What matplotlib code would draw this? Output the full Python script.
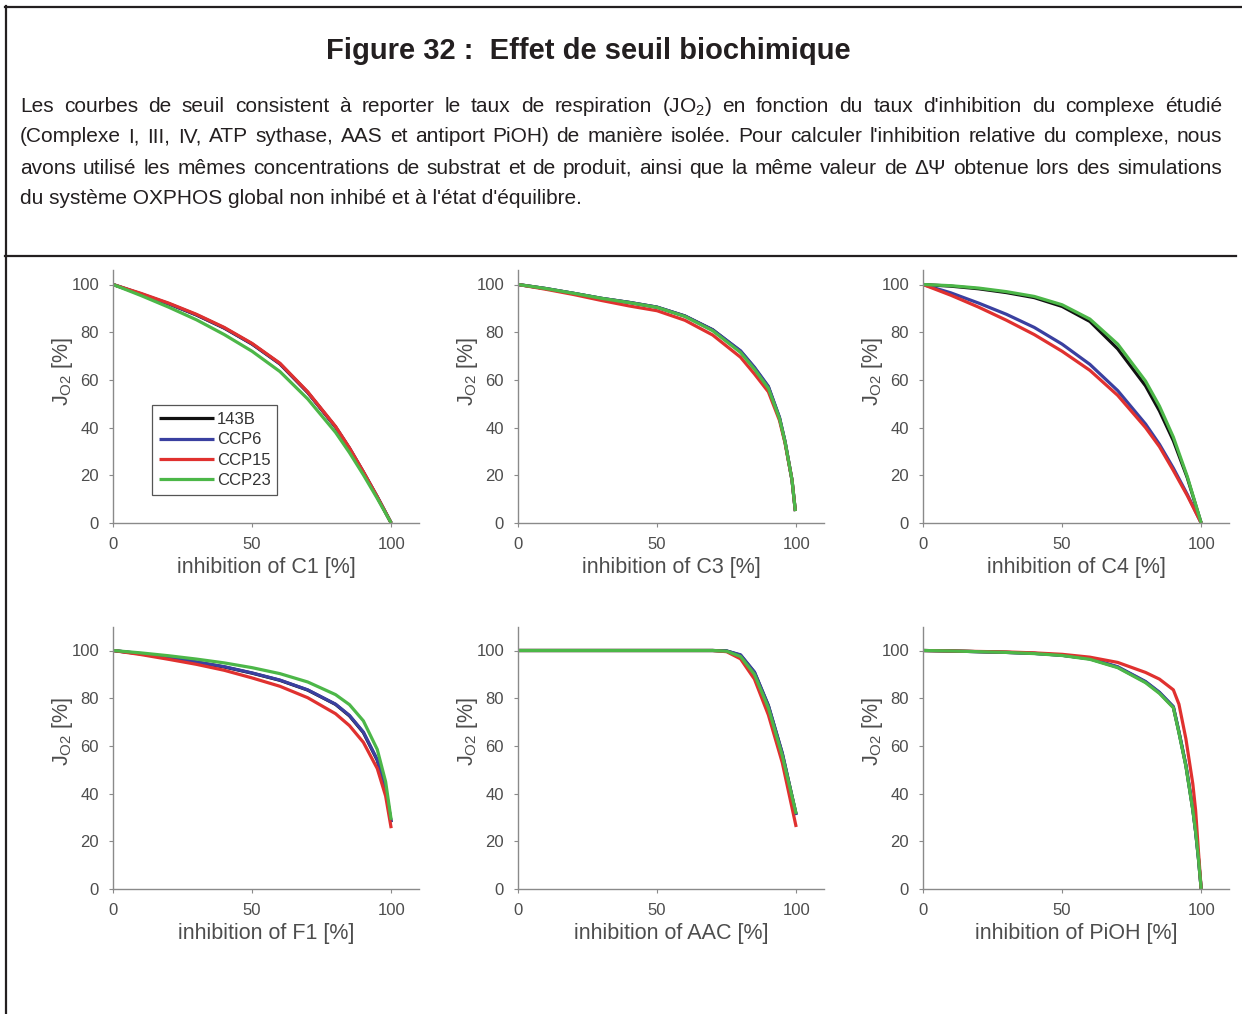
import matplotlib
matplotlib.use("Agg")
import matplotlib.pyplot as plt
from matplotlib.lines import Line2D

plt.rcParams['font.family'] = ['Liberation Sans', 'DejaVu Sans']

# ---- data ----
series = ["143B", "CCP6", "CCP15", "CCP23"]
colors = ["#111111", "#3a40a0", "#e0312f", "#4cb748"]

x_c1 = [0, 10, 20, 30, 40, 50, 60, 70, 80, 85, 90, 95, 100]
c1_143b = [100, 96.0, 91.9, 87.2, 81.7, 75.0, 66.7, 54.7, 40.2, 31.3, 21.3, 10.9, 0]
c1_ccp6 = [100, 96.1, 92.0, 87.3, 81.8, 75.1, 66.8, 54.8, 40.3, 31.4, 21.4, 11.0, 0]
c1_ccp15 = [100, 96.3, 92.2, 87.5, 82.0, 75.3, 67.0, 55.0, 40.5, 31.5, 21.5, 11.0, 0]
c1_ccp23 = [100, 95.4, 90.5, 85.2, 79.0, 72.0, 63.5, 52.0, 38.0, 29.5, 20.2, 10.3, 0]

x_c3 = [0, 10, 20, 30, 40, 50, 60, 70, 80, 85, 90, 94, 96, 98.5, 99.7]
c3_143b = [100, 98.3, 96.3, 94.2, 92.5, 90.5, 86.8, 81.0, 72.0, 65.0, 57.0, 44.0, 34.0, 18.0, 5]
c3_ccp6 = [100, 98.3, 96.3, 94.2, 92.5, 90.5, 86.8, 81.0, 72.2, 65.3, 57.3, 44.3, 34.2, 18.0, 5]
c3_ccp15 = [100, 98.0, 95.8, 93.3, 91.0, 89.0, 85.0, 78.8, 69.5, 62.5, 55.0, 43.0, 33.5, 18.0, 5]
c3_ccp23 = [100, 98.3, 96.3, 94.2, 92.4, 90.4, 86.6, 80.6, 71.5, 64.5, 56.5, 43.8, 34.0, 18.0, 5]

x_c4 = [0, 10, 20, 30, 40, 50, 60, 70, 80, 85, 90, 95, 100]
c4_143b = [100, 99.3, 98.2, 96.6, 94.5, 90.8, 84.5, 73.0, 57.5, 47.0, 34.5, 19.0, 0]
c4_ccp6 = [100, 96.5, 92.2, 87.5, 82.0, 75.0, 66.5, 55.5, 41.5, 33.0, 23.0, 12.0, 0]
c4_ccp15 = [100, 95.5, 90.5, 85.0, 79.0, 72.0, 64.0, 53.5, 40.0, 32.0, 22.0, 11.5, 0]
c4_ccp23 = [100, 99.5, 98.5, 97.0, 95.0, 91.5, 85.5, 75.0, 59.5, 49.0, 36.0, 19.5, 0]

x_f1 = [0, 10, 20, 30, 40, 50, 60, 70, 80, 85, 90, 95, 98, 100]
f1_143b = [100, 98.6, 96.9, 95.1, 93.1, 90.5, 87.5, 83.4, 77.4, 72.6, 65.6, 54.0, 42.0, 28.0]
f1_ccp6 = [100, 98.7, 97.0, 95.2, 93.2, 90.6, 87.6, 83.5, 77.5, 72.8, 65.8, 54.2, 42.0, 28.0]
f1_ccp15 = [100, 98.3, 96.3, 94.2, 91.7, 88.5, 85.0, 80.2, 73.5, 68.5, 61.5, 50.5, 39.0, 25.5]
f1_ccp23 = [100, 99.0, 97.8, 96.4, 94.8, 92.8, 90.3, 86.8, 81.5, 77.3, 70.5, 58.5, 45.0, 29.0]

x_aac = [0, 10, 20, 30, 40, 50, 60, 70, 75, 80, 85, 90, 95, 100]
aac_143b = [100, 100, 100, 100, 100, 100, 100, 100, 99.8, 98.0, 90.8, 76.8, 56.8, 31.2]
aac_ccp6 = [100, 100, 100, 100, 100, 100, 100, 100, 99.8, 98.2, 91.0, 77.0, 57.0, 31.0]
aac_ccp15 = [100, 100, 100, 100, 100, 100, 100, 100, 99.5, 96.5, 88.0, 73.0, 53.0, 26.0]
aac_ccp23 = [100, 100, 100, 100, 100, 100, 100, 100, 99.7, 97.5, 90.0, 76.0, 56.0, 31.5]

x_pioh = [0, 10, 20, 30, 40, 50, 60, 70, 80, 85, 90, 92, 94.5, 97, 98, 99, 100]
pioh_143b = [100, 99.8, 99.5, 99.2, 98.8, 98.0, 96.5, 93.0, 86.8, 82.3, 76.2, 65.8, 51.8, 33.2, 24.0, 13.0, 0]
pioh_ccp6 = [100, 99.8, 99.5, 99.2, 98.8, 98.0, 96.6, 93.2, 87.0, 82.5, 76.5, 66.0, 52.0, 33.5, 24.2, 13.0, 0]
pioh_ccp15 = [100, 99.8, 99.6, 99.4, 99.0, 98.4, 97.2, 95.0, 90.8, 88.0, 83.5, 77.5, 63.0, 44.0, 33.0, 16.0, 0]
pioh_ccp23 = [100, 99.8, 99.5, 99.2, 98.7, 97.9, 96.3, 92.8, 86.5, 82.0, 76.0, 65.5, 51.5, 33.0, 24.0, 13.0, 0]

panels = [
    ("inhibition of C1 [%]", x_c1, [c1_143b, c1_ccp6, c1_ccp15, c1_ccp23]),
    ("inhibition of C3 [%]", x_c3, [c3_143b, c3_ccp6, c3_ccp15, c3_ccp23]),
    ("inhibition of C4 [%]", x_c4, [c4_143b, c4_ccp6, c4_ccp15, c4_ccp23]),
    ("inhibition of F1 [%]", x_f1, [f1_143b, f1_ccp6, f1_ccp15, f1_ccp23]),
    ("inhibition of AAC [%]", x_aac, [aac_143b, aac_ccp6, aac_ccp15, aac_ccp23]),
    ("inhibition of PiOH [%]", x_pioh, [pioh_143b, pioh_ccp6, pioh_ccp15, pioh_ccp23]),
]

title = "Figure 32 :  Effet de seuil biochimique"
para = [
    "Les courbes de seuil consistent à reporter le taux de respiration (JO$_\\mathregular{2}$) en fonction du taux d'inhibition du complexe étudié",
    "(Complexe I, III, IV, ATP sythase, AAS et antiport PiOH) de manière isolée. Pour calculer l'inhibition relative du complexe, nous",
    "avons utilisé les mêmes concentrations de substrat et de produit, ainsi que la même valeur de ΔΨ obtenue lors des simulations",
    "du système OXPHOS global non inhibé et à l'état d'équilibre.",
]

W, H = 1242, 1014
fig = plt.figure(figsize=(W / 100, H / 100), dpi=100)

# frame lines
lc = "#231f20"
fig.add_artist(Line2D([5 / W, 1], [1 - 6.5 / H, 1 - 6.5 / H], color=lc, lw=1.6, transform=fig.transFigure))
fig.add_artist(Line2D([5.5 / W, 5.5 / W], [0, 1 - 6 / H], color=lc, lw=1.6, transform=fig.transFigure))
fig.add_artist(Line2D([5 / W, 1236 / W], [1 - 255.5 / H, 1 - 255.5 / H], color=lc, lw=1.6, transform=fig.transFigure))

fig.text(588 / W, 1 - 51 / H, title, ha="center", va="center", fontsize=21, fontweight="bold", color="#231f20")

# justified paragraph
fig.canvas.draw()
renderer = fig.canvas.get_renderer()
x0, x1 = 20, 1222
line_y = [106, 137, 168, 199]
pfs = 15
for i, line in enumerate(para):
    y = 1 - line_y[i] / H
    if i == len(para) - 1:
        fig.text(x0 / W, y, line, ha="left", va="center", fontsize=pfs, color="#231f20")
        continue
    words = line.split(" ")
    texts = [fig.text(0, y, w, ha="left", va="center", fontsize=pfs, color="#231f20") for w in words]
    widths = [t.get_window_extent(renderer).width for t in texts]
    gap = (x1 - x0 - sum(widths)) / (len(words) - 1)
    xx = x0
    for t, w in zip(texts, widths):
        t.set_x(xx / W)
        xx += w + gap

# axes layout (pixels)
lefts = [113, 518, 923]
rows = [(523, 106), (889, 110)]
grey = "#4d4d4d"
for k, (xlabel, xs, ys) in enumerate(panels):
    r, c = divmod(k, 3)
    bottom, ytop = rows[r]
    hpx = 2.385 * ytop
    ax = fig.add_axes([lefts[c] / W, 1 - bottom / H, 306 / W, hpx / H])
    for yv, col, name in zip(ys, colors, series):
        ax.plot(xs, yv, color=col, lw=2.3, label=name, solid_capstyle="butt", solid_joinstyle="round")
    ax.set_xlim(0, 110)
    ax.set_ylim(0, ytop)
    ax.set_xticks([0, 50, 100])
    ax.set_yticks([0, 20, 40, 60, 80, 100])
    for s in ["top", "right"]:
        ax.spines[s].set_visible(False)
    for s in ["left", "bottom"]:
        ax.spines[s].set_color("#8a8a8a")
        ax.spines[s].set_linewidth(1.0)
    ax.tick_params(direction="out", length=3, width=0.8, color="#8a8a8a", labelcolor=grey, labelsize=12, pad=7)
    ax.set_xlabel(xlabel, fontsize=15.5, color=grey, labelpad=4)
    ax.set_ylabel("J$_\\mathregular{O2}$ [%]", fontsize=15.5, color=grey)
    ax.yaxis.set_label_coords(-0.125, 0.6)
    if k == 0:
        leg = ax.legend(loc="upper left", bbox_to_anchor=(0.127, 0.465), borderaxespad=0,
                        fontsize=12, handlelength=3.3, labelspacing=0.32, handletextpad=0.2,
                        fancybox=False, framealpha=1, edgecolor="#555555", borderpad=0.4)
        leg.get_frame().set_linewidth(0.9)
        for t in leg.get_texts():
            t.set_color("#333333")

fig.savefig("out.png", dpi=100)
